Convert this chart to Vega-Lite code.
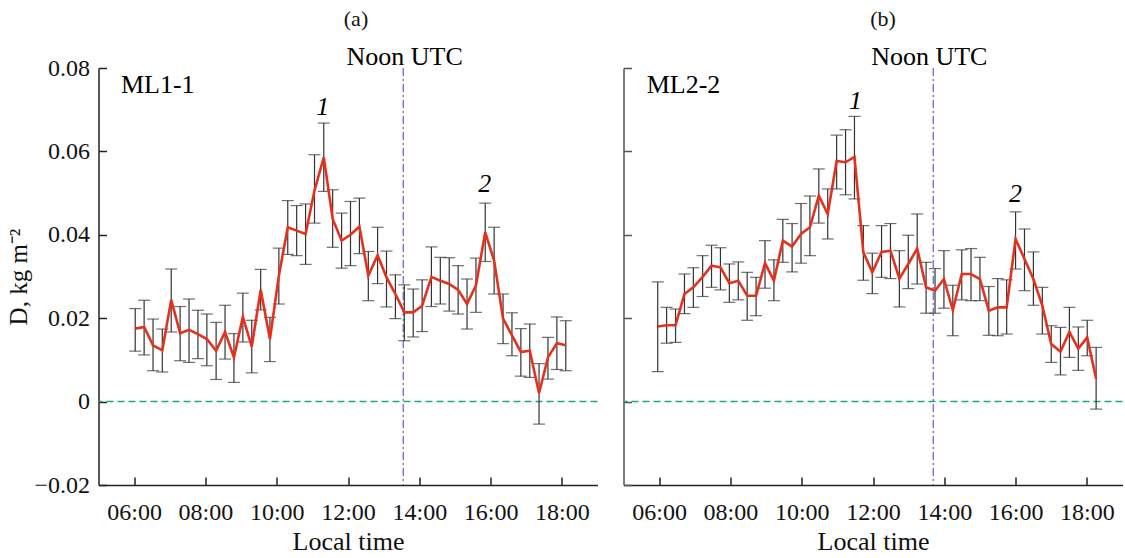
{
  "$schema": "https://vega.github.io/schema/vega-lite/v6.json",
  "padding": {"left": 6.5, "top": 7, "right": 1, "bottom": 5},
  "background": "white",
  "spacing": 26,
  "bounds": "flush",
  "config": {
    "view": {"stroke": null},
    "font": "Liberation Serif",
    "axis": {"grid": false, "domainColor": "#222", "domainWidth": 1.5, "tickColor": "#222", "tickWidth": 1.5, "tickSize": -8,
      "labelFont": "Liberation Serif", "labelFontSize": 24, "labelColor": "#111",
      "titleFont": "Liberation Serif", "titleFontSize": 24, "titleFontWeight": "normal", "titleColor": "#111"},
    "title": {"font": "Liberation Serif", "fontSize": 22, "fontWeight": "normal", "color": "#111"}
  },
  "datasets": {
    "a": [
      {"t": 6.03, "v": 0.0175, "lo": 0.0121, "hi": 0.0223},
      {"t": 6.28, "v": 0.0179, "lo": 0.0112, "hi": 0.0243},
      {"t": 6.53, "v": 0.0135, "lo": 0.0074, "hi": 0.0198},
      {"t": 6.79, "v": 0.0123, "lo": 0.0071, "hi": 0.0174},
      {"t": 7.04, "v": 0.0244, "lo": 0.0167, "hi": 0.0318},
      {"t": 7.29, "v": 0.0164, "lo": 0.0098, "hi": 0.0228},
      {"t": 7.54, "v": 0.0172, "lo": 0.0094, "hi": 0.0246},
      {"t": 7.79, "v": 0.0162, "lo": 0.0103, "hi": 0.0219},
      {"t": 8.04, "v": 0.0150, "lo": 0.0086, "hi": 0.0210},
      {"t": 8.30, "v": 0.0122, "lo": 0.0053, "hi": 0.0190},
      {"t": 8.55, "v": 0.0167, "lo": 0.0102, "hi": 0.0231},
      {"t": 8.80, "v": 0.0106, "lo": 0.0046, "hi": 0.0163},
      {"t": 9.05, "v": 0.0203, "lo": 0.0143, "hi": 0.0260},
      {"t": 9.30, "v": 0.0132, "lo": 0.0069, "hi": 0.0195},
      {"t": 9.55, "v": 0.0268, "lo": 0.0220, "hi": 0.0317},
      {"t": 9.81, "v": 0.0150, "lo": 0.0096, "hi": 0.0202},
      {"t": 10.06, "v": 0.0302, "lo": 0.0234, "hi": 0.0368},
      {"t": 10.31, "v": 0.0418, "lo": 0.0353, "hi": 0.0482},
      {"t": 10.56, "v": 0.0410, "lo": 0.0350, "hi": 0.0470},
      {"t": 10.81, "v": 0.0402, "lo": 0.0329, "hi": 0.0474},
      {"t": 11.06, "v": 0.0506, "lo": 0.0428, "hi": 0.0592},
      {"t": 11.32, "v": 0.0586, "lo": 0.0504, "hi": 0.0668},
      {"t": 11.57, "v": 0.0438, "lo": 0.0370, "hi": 0.0508},
      {"t": 11.82, "v": 0.0386, "lo": 0.0320, "hi": 0.0452},
      {"t": 12.07, "v": 0.0400, "lo": 0.0326, "hi": 0.0480},
      {"t": 12.32, "v": 0.0420, "lo": 0.0355, "hi": 0.0488},
      {"t": 12.57, "v": 0.0302, "lo": 0.0242, "hi": 0.0360},
      {"t": 12.83, "v": 0.0351, "lo": 0.0283, "hi": 0.0418},
      {"t": 13.08, "v": 0.0298, "lo": 0.0227, "hi": 0.0361},
      {"t": 13.33, "v": 0.0258, "lo": 0.0199, "hi": 0.0304},
      {"t": 13.58, "v": 0.0214, "lo": 0.0146, "hi": 0.0280},
      {"t": 13.83, "v": 0.0214, "lo": 0.0155, "hi": 0.0270},
      {"t": 14.08, "v": 0.0230, "lo": 0.0168, "hi": 0.0292},
      {"t": 14.34, "v": 0.0299, "lo": 0.0228, "hi": 0.0371},
      {"t": 14.59, "v": 0.0290, "lo": 0.0234, "hi": 0.0346},
      {"t": 14.84, "v": 0.0282, "lo": 0.0217, "hi": 0.0345},
      {"t": 15.09, "v": 0.0268, "lo": 0.0210, "hi": 0.0326},
      {"t": 15.34, "v": 0.0234, "lo": 0.0174, "hi": 0.0294},
      {"t": 15.59, "v": 0.0279, "lo": 0.0214, "hi": 0.0344},
      {"t": 15.85, "v": 0.0406, "lo": 0.0336, "hi": 0.0476},
      {"t": 16.10, "v": 0.0338, "lo": 0.0258, "hi": 0.0418},
      {"t": 16.35, "v": 0.0199, "lo": 0.0139, "hi": 0.0258},
      {"t": 16.60, "v": 0.0159, "lo": 0.0110, "hi": 0.0213},
      {"t": 16.85, "v": 0.0119, "lo": 0.0061, "hi": 0.0175},
      {"t": 17.10, "v": 0.0122, "lo": 0.0058, "hi": 0.0186},
      {"t": 17.36, "v": 0.0020, "lo": -0.0054, "hi": 0.0091},
      {"t": 17.61, "v": 0.0106, "lo": 0.0054, "hi": 0.0154},
      {"t": 17.86, "v": 0.0140, "lo": 0.0077, "hi": 0.0203},
      {"t": 18.11, "v": 0.0135, "lo": 0.0074, "hi": 0.0194}
    ],
    "b": [
      {"t": 5.96, "v": 0.0180, "lo": 0.0072, "hi": 0.0287},
      {"t": 6.21, "v": 0.0183, "lo": 0.0140, "hi": 0.0226},
      {"t": 6.46, "v": 0.0183, "lo": 0.0142, "hi": 0.0222},
      {"t": 6.71, "v": 0.0258, "lo": 0.0211, "hi": 0.0306},
      {"t": 6.96, "v": 0.0274, "lo": 0.0226, "hi": 0.0321},
      {"t": 7.22, "v": 0.0299, "lo": 0.0252, "hi": 0.0350},
      {"t": 7.47, "v": 0.0326, "lo": 0.0274, "hi": 0.0375},
      {"t": 7.72, "v": 0.0322, "lo": 0.0268, "hi": 0.0369},
      {"t": 7.97, "v": 0.0284, "lo": 0.0238, "hi": 0.0330},
      {"t": 8.22, "v": 0.0290, "lo": 0.0244, "hi": 0.0335},
      {"t": 8.47, "v": 0.0254, "lo": 0.0195, "hi": 0.0310},
      {"t": 8.72, "v": 0.0254, "lo": 0.0206, "hi": 0.0298},
      {"t": 8.97, "v": 0.0332, "lo": 0.0272, "hi": 0.0386},
      {"t": 9.22, "v": 0.0290, "lo": 0.0242, "hi": 0.0340},
      {"t": 9.47, "v": 0.0386, "lo": 0.0334, "hi": 0.0437},
      {"t": 9.73, "v": 0.0372, "lo": 0.0311, "hi": 0.0427},
      {"t": 9.98, "v": 0.0402, "lo": 0.0332, "hi": 0.0475},
      {"t": 10.23, "v": 0.0418, "lo": 0.0350, "hi": 0.0493},
      {"t": 10.48, "v": 0.0494, "lo": 0.0428, "hi": 0.0558},
      {"t": 10.73, "v": 0.0450, "lo": 0.0390, "hi": 0.0510},
      {"t": 10.98, "v": 0.0577, "lo": 0.0510, "hi": 0.0639},
      {"t": 11.23, "v": 0.0574, "lo": 0.0496, "hi": 0.0652},
      {"t": 11.48, "v": 0.0587, "lo": 0.0486, "hi": 0.0684},
      {"t": 11.73, "v": 0.0358, "lo": 0.0291, "hi": 0.0422},
      {"t": 11.98, "v": 0.0310, "lo": 0.0259, "hi": 0.0356},
      {"t": 12.24, "v": 0.0359, "lo": 0.0298, "hi": 0.0422},
      {"t": 12.49, "v": 0.0362, "lo": 0.0295, "hi": 0.0427},
      {"t": 12.74, "v": 0.0295, "lo": 0.0227, "hi": 0.0362},
      {"t": 12.99, "v": 0.0330, "lo": 0.0271, "hi": 0.0399},
      {"t": 13.24, "v": 0.0367, "lo": 0.0282, "hi": 0.0450},
      {"t": 13.49, "v": 0.0274, "lo": 0.0212, "hi": 0.0334},
      {"t": 13.74, "v": 0.0266, "lo": 0.0212, "hi": 0.0319},
      {"t": 13.99, "v": 0.0294, "lo": 0.0224, "hi": 0.0362},
      {"t": 14.24, "v": 0.0219, "lo": 0.0158, "hi": 0.0279},
      {"t": 14.49, "v": 0.0306, "lo": 0.0244, "hi": 0.0364},
      {"t": 14.75, "v": 0.0306, "lo": 0.0242, "hi": 0.0367},
      {"t": 15.00, "v": 0.0294, "lo": 0.0242, "hi": 0.0346},
      {"t": 15.25, "v": 0.0218, "lo": 0.0159, "hi": 0.0276},
      {"t": 15.50, "v": 0.0226, "lo": 0.0158, "hi": 0.0295},
      {"t": 15.75, "v": 0.0226, "lo": 0.0162, "hi": 0.0292},
      {"t": 16.00, "v": 0.0390, "lo": 0.0318, "hi": 0.0455},
      {"t": 16.25, "v": 0.0342, "lo": 0.0266, "hi": 0.0414},
      {"t": 16.50, "v": 0.0294, "lo": 0.0231, "hi": 0.0359},
      {"t": 16.75, "v": 0.0230, "lo": 0.0162, "hi": 0.0274},
      {"t": 17.00, "v": 0.0138, "lo": 0.0094, "hi": 0.0182},
      {"t": 17.26, "v": 0.0120, "lo": 0.0064, "hi": 0.0178},
      {"t": 17.51, "v": 0.0167, "lo": 0.0106, "hi": 0.0226},
      {"t": 17.76, "v": 0.0127, "lo": 0.0075, "hi": 0.0179},
      {"t": 18.01, "v": 0.0154, "lo": 0.0110, "hi": 0.0195},
      {"t": 18.26, "v": 0.0055, "lo": -0.0018, "hi": 0.0130}
    ]
  },
  "hconcat": [
    {
      "width": 499, "height": 417,
      "title": {"text": "(a)", "frame": "group", "offset": 13, "dx": 8},
      "layer": [
        {"data": {"values": [{}]}, "mark": {"type": "rule", "color": "#1faa70", "strokeDash": [7, 4], "strokeWidth": 1.5},
         "encoding": {"y": {"datum": 0, "type": "quantitative", "scale": {"domain": [-0.02, 0.08], "nice": false, "zero": false}}}},
        {"data": {"values": [{}]}, "mark": {"type": "rule", "color": "#6262d0", "strokeDash": [8, 3, 2, 3], "strokeWidth": 1.2},
         "encoding": {"x": {"datum": 13.55, "type": "quantitative", "scale": {"domain": [5, 19], "nice": false, "zero": false}}}},
        {"data": {"name": "a"},
         "mark": {"type": "errorbar", "ticks": true, "size": 12, "thickness": 1.2, "color": "#333"},
         "encoding": {
           "x": {"field": "t", "type": "quantitative", "scale": {"domain": [5, 19], "nice": false, "zero": false},
                 "axis": {"values": [6, 8, 10, 12, 14, 16, 18], "labelExpr": "(datum.value < 10 ? '0' : '') + datum.value + ':00'", "title": "Local time", "titleFontSize": 26, "labelPadding": 23, "titlePadding": 4}},
           "y": {"field": "lo", "type": "quantitative", "scale": {"domain": [-0.02, 0.08], "nice": false, "zero": false},
                 "title": "D, kg m⁻²",
                 "axis": {"values": [-0.02, 0, 0.02, 0.04, 0.06, 0.08], "format": ".2~f", "labelPadding": 17, "titlePadding": 2, "titleFontSize": 25}},
           "y2": {"field": "hi"}
         }},
        {"data": {"name": "a"},
         "mark": {"type": "line", "color": "#e2321f", "strokeWidth": 2.6},
         "encoding": {"x": {"field": "t", "type": "quantitative"}, "y": {"field": "v", "type": "quantitative", "title": "D, kg m⁻²"}}},
        {"data": {"values": [{}]}, "mark": {"type": "text", "text": "ML1-1", "align": "left", "baseline": "middle", "fontSize": 26, "font": "Liberation Serif"},
         "encoding": {"x": {"datum": 5.63}, "y": {"datum": 0.076}}},
        {"data": {"values": [{}]}, "mark": {"type": "text", "text": "Noon UTC", "align": "center", "baseline": "middle", "fontSize": 26, "font": "Liberation Serif"},
         "encoding": {"x": {"datum": 13.59}, "y": {"datum": 0.0827}}},
        {"data": {"values": [{}]}, "mark": {"type": "text", "text": "1", "align": "center", "baseline": "middle", "fontSize": 26, "fontStyle": "italic", "font": "Liberation Serif"},
         "encoding": {"x": {"datum": 11.29}, "y": {"datum": 0.0707}}},
        {"data": {"values": [{}]}, "mark": {"type": "text", "text": "2", "align": "center", "baseline": "middle", "fontSize": 26, "fontStyle": "italic", "font": "Liberation Serif"},
         "encoding": {"x": {"datum": 15.84}, "y": {"datum": 0.0522}}}
      ]
    },
    {
      "width": 499, "height": 417,
      "title": {"text": "(b)", "frame": "group", "offset": 13, "dx": 10},
      "layer": [
        {"data": {"values": [{}]}, "mark": {"type": "rule", "color": "#1faa70", "strokeDash": [7, 4], "strokeWidth": 1.5},
         "encoding": {"y": {"datum": 0, "type": "quantitative", "scale": {"domain": [-0.02, 0.08], "nice": false, "zero": false}}}},
        {"data": {"values": [{}]}, "mark": {"type": "rule", "color": "#6262d0", "strokeDash": [8, 3, 2, 3], "strokeWidth": 1.2},
         "encoding": {"x": {"datum": 13.69, "type": "quantitative", "scale": {"domain": [5, 19], "nice": false, "zero": false}}}},
        {"data": {"name": "b"},
         "mark": {"type": "errorbar", "ticks": true, "size": 12, "thickness": 1.2, "color": "#333"},
         "encoding": {
           "x": {"field": "t", "type": "quantitative", "scale": {"domain": [5, 19], "nice": false, "zero": false},
                 "axis": {"values": [6, 8, 10, 12, 14, 16, 18], "labelExpr": "(datum.value < 10 ? '0' : '') + datum.value + ':00'", "title": "Local time", "titleFontSize": 26, "labelPadding": 23, "titlePadding": 4}},
           "y": {"field": "lo", "type": "quantitative", "scale": {"domain": [-0.02, 0.08], "nice": false, "zero": false},
                 "title": null,
                 "axis": {"values": [-0.02, 0, 0.02, 0.04, 0.06, 0.08], "labels": false, "domainColor": "#555", "tickColor": "#555"}},
           "y2": {"field": "hi"}
         }},
        {"data": {"name": "b"},
         "mark": {"type": "line", "color": "#e2321f", "strokeWidth": 2.6},
         "encoding": {"x": {"field": "t", "type": "quantitative"}, "y": {"field": "v", "type": "quantitative", "title": null}}},
        {"data": {"values": [{}]}, "mark": {"type": "text", "text": "ML2-2", "align": "left", "baseline": "middle", "fontSize": 26, "font": "Liberation Serif"},
         "encoding": {"x": {"datum": 5.65}, "y": {"datum": 0.076}}},
        {"data": {"values": [{}]}, "mark": {"type": "text", "text": "Noon UTC", "align": "center", "baseline": "middle", "fontSize": 26, "font": "Liberation Serif"},
         "encoding": {"x": {"datum": 13.58}, "y": {"datum": 0.0827}}},
        {"data": {"values": [{}]}, "mark": {"type": "text", "text": "1", "align": "center", "baseline": "middle", "fontSize": 26, "fontStyle": "italic", "font": "Liberation Serif"},
         "encoding": {"x": {"datum": 11.51}, "y": {"datum": 0.0721}}},
        {"data": {"values": [{}]}, "mark": {"type": "text", "text": "2", "align": "center", "baseline": "middle", "fontSize": 26, "fontStyle": "italic", "font": "Liberation Serif"},
         "encoding": {"x": {"datum": 16.0}, "y": {"datum": 0.0498}}}
      ]
    }
  ]
}
